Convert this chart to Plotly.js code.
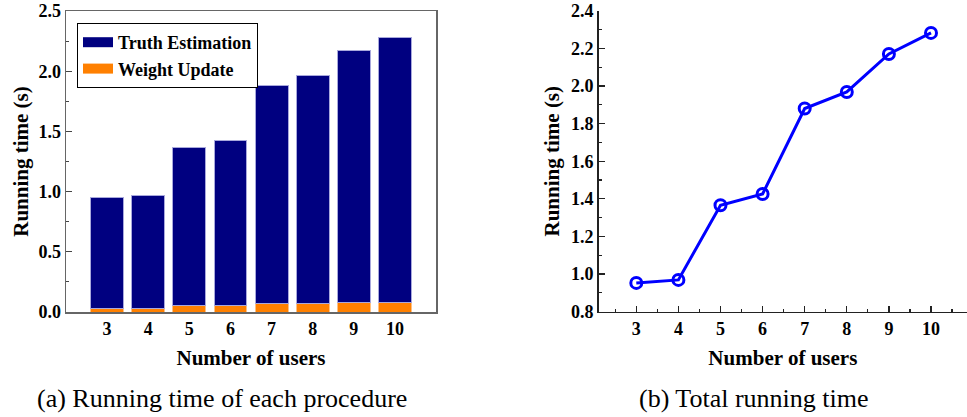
<!DOCTYPE html>
<html>
<head>
<meta charset="utf-8">
<script src="https://cdn.plot.ly/plotly-3.0.1.min.js"></script>
<style>html,body{margin:0;padding:0;background:#fff;}#chart{width:967px;height:417px;}</style>
</head>
<body>
<div id="chart"></div>
<script>
// ---- data ----
const users = [3, 4, 5, 6, 7, 8, 9, 10];
const weightUpdate = [0.03, 0.03, 0.05, 0.05, 0.07, 0.07, 0.075, 0.08];
const truthEstimation = [0.923, 0.939, 1.316, 1.376, 1.810, 1.898, 2.095, 2.202];
const totalTime = [0.953, 0.969, 1.366, 1.426, 1.880, 1.968, 2.170, 2.282];
const seriesNames = ['Truth Estimation', 'Weight Update'];
const xTitle = 'Number of users';
const yTitle = 'Running time (s)';
const captions = ['(a) Running time of each procedure', '(b) Total running time'];

// ---- styling ----
const FAM = '"Liberation Serif", "Times New Roman", Times, serif';
const NAVY = '#000080';
const ORANGE = '#ff8000';
const tickFont = {family: FAM, size: 18, color: '#000', weight: 'bold'};
const titleFont = {family: FAM, size: 21, color: '#000', weight: 'bold'};

const traces = [
  {type: 'bar', x: users, y: weightUpdate, name: seriesNames[1], showlegend: false,
   marker: {color: ORANGE, line: {color: '#ffc080', width: 1}}, width: 0.8, xaxis: 'x', yaxis: 'y'},
  {type: 'bar', x: users, y: truthEstimation, name: seriesNames[0], showlegend: false,
   marker: {color: NAVY, line: {color: '#a8a8dc', width: 1}}, width: 0.8, xaxis: 'x', yaxis: 'y'},
  // legend entries (wide rectangular swatches like the original)
  {type: 'scatter', mode: 'lines', x: [null], y: [null], name: seriesNames[0], showlegend: true,
   line: {color: NAVY, width: 13}, xaxis: 'x', yaxis: 'y', hoverinfo: 'skip'},
  {type: 'scatter', mode: 'lines', x: [null], y: [null], name: seriesNames[1], showlegend: true,
   line: {color: ORANGE, width: 13}, xaxis: 'x', yaxis: 'y', hoverinfo: 'skip'},
  // right panel
  {type: 'scatter', mode: 'lines+markers', x: users, y: totalTime, showlegend: false,
   line: {color: '#0000ff', width: 3},
   marker: {symbol: 'circle-open', size: 11, color: '#0000ff', line: {width: 3, color: '#0000ff'}},
   xaxis: 'x2', yaxis: 'y2'}
];

const topTicks = [];
for (let v = 3; v <= 10.001; v += 0.875) topTicks.push(v);

const LDOMX = [66/967, 436/967];
const LDOMY = [1 - 312/417, 1 - 11/417];
const RDOMX = [598.7/967, 1.0];
const RDOMY = [1 - 311.7/417, 1 - 10.7/417];

const layout = {
  width: 967, height: 417,
  margin: {l: 0, r: 0, t: 0, b: 0},
  paper_bgcolor: '#fff', plot_bgcolor: '#fff',
  barmode: 'stack', bargap: 0.2,
  showlegend: true,
  legend: {x: 77/967, y: 1 - 23/417, xanchor: 'left', yanchor: 'top',
    bordercolor: '#000', borderwidth: 1, bgcolor: '#fff',
    font: {family: FAM, size: 18, color: '#000', weight: 'bold'},
    traceorder: 'normal', tracegroupgap: 0},
  xaxis: {domain: LDOMX, anchor: 'y', range: [2, 11], tickmode: 'array', tickvals: users,
    ticks: '', showline: true, linecolor: '#666', linewidth: 1.5, mirror: true,
    showgrid: false, zeroline: false, tickfont: tickFont,
    title: {text: xTitle, font: titleFont, standoff: 12}},
  yaxis: {domain: LDOMY, anchor: 'x', range: [0, 2.5], dtick: 0.5, tickformat: '.1f',
    ticks: 'inside', ticklen: 6, tickwidth: 1.2, tickcolor: '#444',
    minor: {dtick: 0.25, ticks: 'inside', ticklen: 3, tickcolor: '#444', showgrid: false},
    showline: true, linecolor: '#666', linewidth: 1.5, mirror: true,
    showgrid: false, zeroline: false, tickfont: tickFont,
    title: {text: yTitle, font: titleFont, standoff: 4}},
  yaxis3: {overlaying: 'y', anchor: 'x', side: 'right', range: [0, 2.5], dtick: 0.25,
    ticks: 'inside', ticklen: 4, tickwidth: 1.2, tickcolor: '#444', showticklabels: false,
    showline: false, showgrid: false, zeroline: false},
  xaxis2: {domain: RDOMX, anchor: 'y2', range: [2.107, 10.855], dtick: 1, tick0: 3,
    ticks: 'inside', ticklen: 6, tickwidth: 1.2, tickcolor: '#222',
    minor: {dtick: 0.5, ticks: 'inside', ticklen: 3, tickcolor: '#222', showgrid: false},
    showline: true, linecolor: '#222', linewidth: 1.5, mirror: false,
    showgrid: false, zeroline: false, tickfont: tickFont,
    title: {text: xTitle, font: titleFont, standoff: 12}},
  xaxis3: {overlaying: 'x2', anchor: 'y2', side: 'top', range: [2.107, 10.855],
    tickmode: 'array', tickvals: topTicks, ticks: 'inside', ticklen: 5, tickwidth: 1.2,
    tickcolor: '#222', showticklabels: false, showline: true, linecolor: '#222', linewidth: 1.5,
    showgrid: false, zeroline: false},
  yaxis2: {domain: RDOMY, anchor: 'x2', range: [0.8, 2.4], dtick: 0.2, tick0: 0.8, tickformat: '.1f',
    ticks: 'inside', ticklen: 6, tickwidth: 1.2, tickcolor: '#222',
    minor: {dtick: 0.1, ticks: 'inside', ticklen: 3, tickcolor: '#222', showgrid: false},
    showline: true, linecolor: '#222', linewidth: 1.5, mirror: false,
    showgrid: false, zeroline: false, tickfont: tickFont,
    title: {text: yTitle, font: titleFont, standoff: 5}},
  yaxis4: {overlaying: 'y2', anchor: 'x2', side: 'right', range: [0.8, 2.4], dtick: 0.16, tick0: 0.8,
    ticks: 'inside', ticklen: 4, tickwidth: 1.2, tickcolor: '#222', showticklabels: false,
    showline: false, showgrid: false, zeroline: false},
  annotations: [
    {text: captions[0], xref: 'paper', yref: 'paper', x: 221.7/967, y: 1 - 398/417,
     xanchor: 'center', yanchor: 'middle', showarrow: false,
     font: {family: FAM, size: 26, color: '#000'}},
    {text: captions[1], xref: 'paper', yref: 'paper', x: 754/967, y: 1 - 398/417,
     xanchor: 'center', yanchor: 'middle', showarrow: false,
     font: {family: FAM, size: 26, color: '#000'}}
  ]
};

Plotly.newPlot('chart', traces, layout, {staticPlot: true, displayModeBar: false});
</script>
</body>
</html>
